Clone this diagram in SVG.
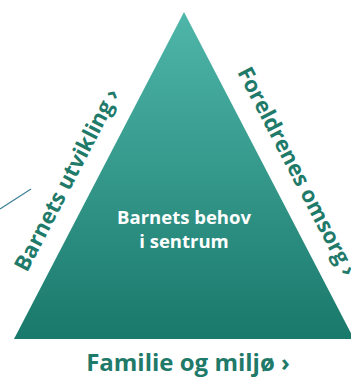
<svg xmlns="http://www.w3.org/2000/svg" width="351" height="378" viewBox="0 0 351 378">
<style>
.lbl{font-family:"Open Sans","Liberation Sans",sans-serif;font-weight:700;fill:#1f7a69}
.ctr{font-family:"Open Sans","Liberation Sans",sans-serif;font-weight:700;fill:#ffffff;font-size:18.5px;text-anchor:middle}
</style>
<defs>
<linearGradient id="g" x1="0" y1="0" x2="0" y2="1">
<stop offset="0" stop-color="#4fb6aa"/>
<stop offset="1" stop-color="#19796b"/>
</linearGradient>
</defs>
<rect width="351" height="378" fill="#ffffff"/>
<g id="connectors">
<line x1="0" y1="209" x2="31" y2="189" stroke="#3f8196" stroke-width="1.2"/>
</g>
<g id="triangle">
<polygon points="184,12 14,339 354,339" fill="url(#g)"/>
<text class="ctr" x="184" y="224">Barnets behov</text>
<text class="ctr" x="184" y="248">i sentrum</text>
</g>
<g id="left-label">
<text class="lbl" font-size="22" transform="translate(27,273) rotate(-62.6)">Barnets utvikling<tspan dx="5">›</tspan></text>
</g>
<g id="right-label">
<text class="lbl" font-size="22" transform="translate(237,72) rotate(62.6)">Foreldrenes omsorg<tspan dx="5">›</tspan></text>
</g>
<g id="bottom-label">
<text class="lbl" font-size="24" x="188" y="371" text-anchor="middle">Familie og miljø ›</text>
</g>
</svg>
